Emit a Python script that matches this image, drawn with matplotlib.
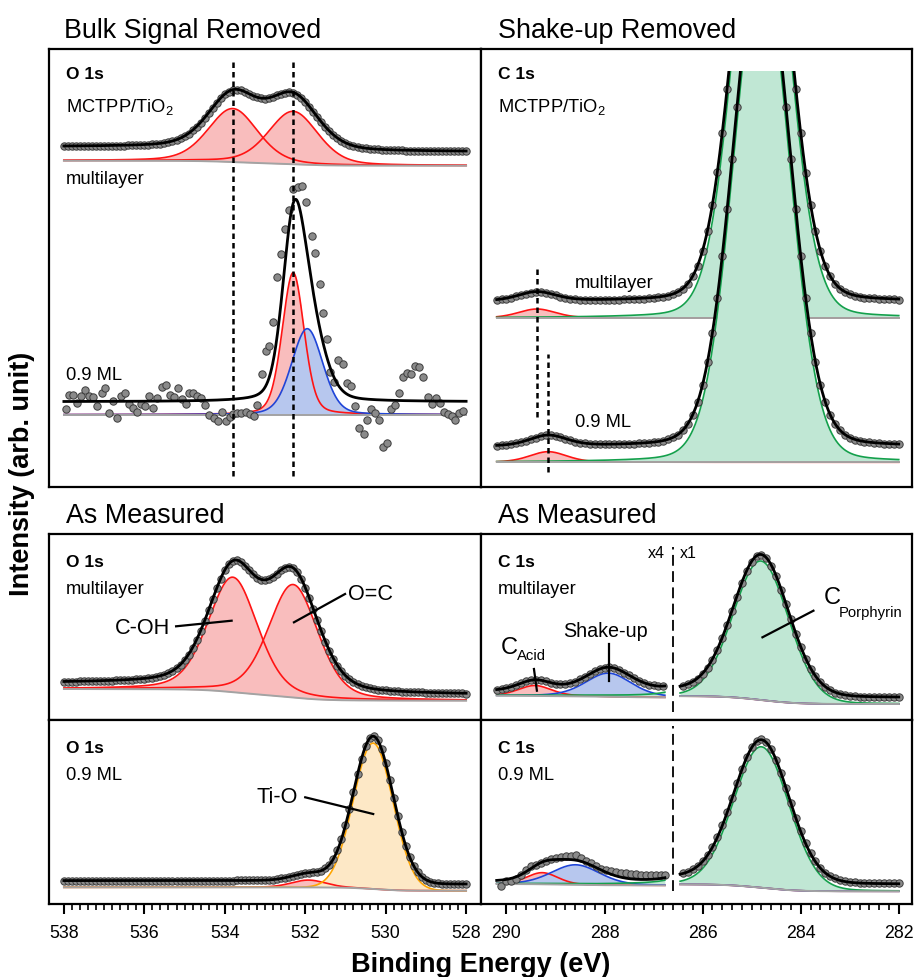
import numpy as np
import matplotlib
matplotlib.use('Agg')
import matplotlib.pyplot as plt
from matplotlib.patches import Rectangle
from matplotlib.ticker import MultipleLocator, FixedLocator

plt.rcParams['font.family'] = ['Liberation Sans', 'DejaVu Sans']
plt.rcParams['mathtext.fontset'] = 'custom'
plt.rcParams['mathtext.rm'] = 'Liberation Sans'

## colours
RED, RED_F = '#ff1414', '#f9bdbd'
BLUE, BLUE_F = '#1f45d8', '#b7c7ee'
GREEN, GREEN_F = '#14a04c', '#c0e7d4'
ORANGE, ORANGE_F = '#ffa500', '#fde8c6'
GREY = '#a3a3a3'
DOT, DOT_E = '#8a8a8a', '#3c3c3c'

## fitted peaks: (centre [eV], height, FWHM [eV], lorentz fraction), Shirley step
o1s_sub_ml_peaks = [(533.80, 53.5, 1.45, 0.3), (532.30, 53.0, 1.45, 0.3)]
o1s_sub_ml_step = 5.0
o1s_sub_09_peaks = [(532.30, 142.0, 0.64, 0.25), (531.95, 86.0, 0.91, 0.2)]
o1s_sub_09_step = 0.0
c1s_sub_ml_peaks = [(289.38, 9.0, 0.90, 0.3), (284.80, 475.0, 1.30, 0.10)]
c1s_sub_09_peaks = [(289.15, 10.6, 0.90, 0.3), (284.80, 500.0, 1.35, 0.10)]
o1s_ml_peaks = [(533.80, 115.0, 1.45, 0.3), (532.30, 113.0, 1.45, 0.3)]
o1s_ml_step = 11.7
c1s_ml_peaks = [(289.42, 2.6, 0.80, 0.3), (287.92, 5.9, 1.10, 0.3), (284.81, 139.0, 1.33, 0.07)]
c1s_ml_step = 8.3
o1s_09_peaks = [(531.92, 7.3, 1.00, 0.2), (530.31, 146.0, 1.16, 0.0)]
o1s_09_step = 3.4
c1s_09_peaks = [(289.27, 2.9, 0.75, 0.2), (288.59, 5.0, 1.16, 0.2), (284.80, 141.0, 1.33, 0.07)]
c1s_09_step = 7.3

## measured points (0.1 eV steps)
o1s_E = np.round(np.arange(538.0, 527.95, -0.1), 1)
c1s_E = np.round(np.arange(290.2, 281.95, -0.1), 1)
o1s_sub_ml_I = [6, 6, 6, 6, 6, 6, 6, 6, 6, 6, 6, 6, 6, 6, 6, 6, 7, 7, 7, 7,
                7, 7, 8, 8, 8, 9, 10, 11, 12, 14, 16, 18, 22, 25, 29, 34, 39, 44, 49, 54,
                58, 60, 62, 62, 62, 60, 58, 56, 55, 54, 53, 54, 55, 57, 58, 59, 60, 59, 57, 54,
                50, 45, 40, 35, 30, 25, 21, 17, 14, 11, 9, 7, 6, 5, 4, 4, 3, 3, 3, 2,
                2, 2, 2, 2, 2, 1, 1, 1, 1, 1, 1, 1, 1, 1, 1, 1, 1, 1, 1, 1, 1]
o1s_ml_I = [13, 13, 13, 13, 14, 14, 14, 14, 14, 14, 14, 14, 14, 15, 15, 15, 15, 15, 16, 16,
            16, 17, 17, 18, 19, 20, 22, 24, 27, 30, 35, 40, 47, 55, 64, 74, 85, 96, 107, 116,
            125, 131, 134, 135, 133, 129, 125, 121, 117, 115, 115, 116, 118, 121, 125, 127, 128, 127, 123, 116,
            107, 97, 86, 75, 64, 53, 44, 36, 29, 24, 19, 16, 13, 11, 9, 8, 7, 6, 5, 5,
            5, 4, 4, 4, 3, 3, 3, 3, 3, 3, 2, 2, 2, 2, 2, 2, 2, 2, 2, 2, 1]
o1s_09_I = [3, 3, 3, 3, 3, 3, 3, 3, 3, 3, 3, 3, 3, 3, 3, 3, 3, 3, 3, 3,
            3, 3, 3, 3, 3, 3, 3, 3, 3, 3, 3, 3, 3, 3, 3, 3, 3, 3, 3, 3,
            3, 3, 3, 4, 4, 4, 4, 4, 4, 4, 4, 4, 4, 5, 6, 6, 7, 8, 9, 10,
            11, 11, 12, 12, 13, 16, 19, 25, 34, 45, 59, 75, 92, 110, 125, 138, 146, 148, 144, 135,
            121, 104, 86, 68, 52, 38, 27, 18, 12, 7, 4, 2, 1, 1, 0, 0, 0, 0, 0, 0, 0]
c1s_sub_ml_I = [2, 3, 3, 4, 6, 7, 8, 9, 10, 10, 9, 8, 7, 5, 4, 3, 3, 2, 2, 2,
                2, 2, 2, 2, 2, 2, 3, 3, 3, 3, 3, 4, 4, 5, 5, 6, 8, 10, 13, 18,
                26, 36, 51, 71, 97, 130, 169, 213, 263, 314, 363, 408, 444, 467, 475, 467, 444, 408, 363, 314,
                262, 213, 169, 129, 97, 71, 51, 36, 26, 18, 13, 10, 8, 6, 5, 4, 4, 4, 3, 3,
                3, 3, 2]
c1s_sub_09_I = [1, 2, 2, 3, 4, 5, 6, 8, 9, 11, 12, 12, 11, 10, 8, 7, 5, 4, 4, 3,
                3, 3, 3, 3, 3, 3, 3, 3, 3, 4, 4, 4, 5, 5, 6, 8, 10, 12, 17, 23,
                32, 45, 62, 85, 114, 149, 191, 238, 288, 340, 390, 434, 469, 492, 500, 492, 469, 434, 390, 340,
                288, 238, 191, 149, 114, 85, 62, 45, 32, 23, 17, 12, 9, 7, 6, 5, 5, 4, 4, 3,
                3, 3, 3]
c1s_ml_left_I = [8.8, 9.0, 9.2, 9.6, 10.0, 10.4, 10.9, 11.2, 11.3, 11.2, 10.9, 10.6, 10.3, 10.2,
                 10.2, 10.4, 10.8, 11.4, 12.0, 12.7, 13.4, 14.0, 14.3, 14.4, 14.2, 13.7, 13.1, 12.4,
                 11.7, 11.1, 10.6, 10.1, 9.9, 9.7, 9.7]
c1s_ml_right_I = [12, 14, 16, 19, 24, 30, 38, 48, 60, 73, 87, 101, 115, 127, 136, 142, 143, 140, 132, 122,
                  108, 94, 79, 64, 51, 39, 29, 22, 16, 11, 8, 5, 4, 3, 2, 2, 1, 1, 1, 1,
                  1, 1, 1, 1, 1]
c1s_09_right_I = [11, 12, 15, 18, 23, 29, 37, 47, 59, 72, 86, 101, 115, 127, 137, 143, 145, 142, 135, 124,
                  111, 96, 81, 66, 53, 41, 31, 23, 16, 11, 8, 6, 4, 3, 2, 2, 1, 1, 1, 1,
                  1, 1, 1, 1, 1]
o1s_sub_09_E = [537.95, 537.87, 537.78, 537.67, 537.58, 537.48, 537.37, 537.27, 537.17, 537.06,
                536.97, 536.87, 536.77, 536.69, 536.57, 536.47, 536.37, 536.28, 536.18, 536.09,
                535.98, 535.88, 535.78, 535.69, 535.55, 535.46, 535.36, 535.27, 535.17, 535.07,
                534.97, 534.88, 534.78, 534.68, 534.59, 534.48, 534.38, 534.27, 534.18, 534.08,
                533.97, 533.88, 533.79, 533.69, 533.59, 533.47, 533.37, 533.27, 533.19, 533.08,
                532.98, 532.89, 532.79, 532.69, 532.59, 532.50, 532.40, 532.30, 532.19, 532.09,
                531.98, 531.84, 531.76, 531.63, 531.57, 531.47, 531.38, 531.28, 531.18, 531.07,
                530.97, 530.87, 530.76, 530.66, 530.55, 530.47, 530.37, 530.26, 530.17, 530.07,
                529.97, 529.87, 529.76, 529.67, 529.58, 529.48, 529.37, 529.27, 529.16, 529.06,
                528.96, 528.86, 528.76, 528.66, 528.56, 528.46, 528.36, 528.27, 528.17, 528.07]
o1s_sub_09_I = [-7.3, 7.0, 7.0, -1.6, 6.0, 12.0, 5.4, 5.0, -4.0, 8.7,
                13.4, -11.3, 1.0, -16.3, 5.7, 9.0, -2.3, -6.0, -10.0, -2.6,
                -4.6, 5.4, -6.3, 3.4, 14.4, 16.4, 6.7, 4.7, 13.4, 3.0,
                -2.3, 9.0, 9.0, 5.7, 4.0, -3.3, -13.0, -16.3, -19.0, -10.6,
                -19.6, -15.6, -12.3, -11.6, -11.6, -10.0, -12.3, -14.0, -3.3, 27.7,
                51.0, 55.4, 80.0, 124.4, 147.7, 172.7, 192.0, 212.7, 214.4, 216.0,
                199.4, 165.4, 148.7, 117.7, 88.4, 62.7, 29.4, 20.0, 41.7, 38.0,
                18.7, 15.4, -4.0, -26.6, -32.0, -18.3, -7.3, -11.3, -18.3, -45.3,
                -41.6, -7.0, -3.0, 8.4, 25.0, 29.0, 28.0, 35.7, 34.4, 25.0,
                5.0, -2.0, 3.4, -1.3, -10.0, -12.6, -14.7, -18.3, -11.3, -9.6]
c1s_09_left_E = [290.12, 290.01, 289.91, 289.81, 289.71, 289.61, 289.50, 289.40, 289.30, 289.20,
                 289.10, 288.99, 288.89, 288.79, 288.69, 288.59, 288.48, 288.38, 288.28, 288.18,
                 288.08, 287.97, 287.87, 287.77, 287.67, 287.57, 287.46, 287.36, 287.26, 287.16,
                 287.06, 286.96, 286.85, 286.77]
c1s_09_left_I = [6.38, 7.45, 7.63, 8.05, 9.13, 10.38, 11.20, 11.63, 12.05, 12.45,
                 13.05, 13.30, 13.55, 13.70, 13.70, 14.13, 13.30, 12.45, 12.05, 11.20,
                 10.55, 10.38, 9.95, 9.70, 9.55, 9.55, 9.30, 9.30, 9.13, 9.13,
                 9.13, 9.13, 9.05, 9.13]


def grid(hi, lo):
    n = int(round((hi - lo) / 0.01)) + 1
    return np.round(hi - 0.01 * np.arange(n), 2)


def pv(E, c, h, w, eta):
    x = (E - c) / w
    return h * (eta / (1 + 4 * x ** 2) + (1 - eta) * np.exp(-4 * np.log(2) * x ** 2))


def model(E, peaks, step):
    comps = np.array([pv(E, *p) for p in peaks])
    tot = comps.sum(axis=0)
    area = np.cumsum(tot[::-1])[::-1]
    return comps, step * area / area[0]


def draw(ax, E, comps, bg, cols, y0, off, z=0, gain=1.0, ref=0.0):
    sc = lambda y: y0 + ref + gain * (y - ref)
    arts = []
    for c, (lc, fc) in zip(comps, cols):
        arts.append(ax.fill_between(E, sc(bg), sc(bg + c), color=fc, lw=0, zorder=1 + z))
    for c, (lc, fc) in zip(comps, cols):
        arts += ax.plot(E, sc(bg + c), color=lc, lw=1.2, zorder=2 + z)
    arts += ax.plot(E, sc(bg), color=GREY, lw=1.4, zorder=2 + z)
    arts += ax.plot(E, sc(bg + comps.sum(0)) + off, color='k', lw=2.0, zorder=4 + z)
    return arts


def dots(ax, E, I, y0, off, z=0, gain=1.0, ref=0.0):
    I = np.asarray(I, dtype=float)
    return ax.plot(E, y0 + ref + gain * (I - ref) + off, 'o', ms=5.3, mfc=DOT, mec=DOT_E,
                   mew=0.7, zorder=3 + z)


W, H = 915.0, 978.0
fig = plt.figure(figsize=(W / 100, H / 100), dpi=100)


def add_panel(x0, y0, x1, y1, xlim):
    ax = fig.add_axes([x0 / W, 1 - y1 / H, (x1 - x0) / W, (y1 - y0) / H])
    ax.set_xlim(*xlim)
    ax.set_ylim(0, y1 - y0)
    ax.set_yticks([])
    for s in ax.spines.values():
        s.set_linewidth(1.6)
    ax.tick_params(axis='x', which='both', bottom=False, labelbottom=False)
    return ax


O_LIM = (538.37, 527.63)
C_LIM = (290.52, 281.73)
axA = add_panel(49, 50, 481, 488, O_LIM)
axB = add_panel(481, 50, 912, 488, C_LIM)
axC = add_panel(49, 535, 481, 721, O_LIM)
axD = add_panel(481, 535, 912, 721, C_LIM)
axE = add_panel(49, 721, 481, 905, O_LIM)
axF = add_panel(481, 721, 912, 905, C_LIM)

## --- top left: bulk signal removed
E = grid(538.0, 528.0)
comps, bg = model(E, o1s_sub_ml_peaks, o1s_sub_ml_step)
draw(axA, E, comps, bg, [(RED, RED_F)] * 2, 321.3, 14)
dots(axA, o1s_E, o1s_sub_ml_I, 321.3, 14)
comps, bg = model(E, o1s_sub_09_peaks, o1s_sub_09_step)
draw(axA, E, comps, bg, [(RED, RED_F), (BLUE, BLUE_F)], 72.3, 13, z=10)
dots(axA, o1s_sub_09_E, o1s_sub_09_I, 72.3, 13, z=10)
for p in o1s_sub_ml_peaks:
    axA.plot([p[0], p[0]], [11, 428], color='k', lw=1.8, ls=(0, (2.2, 1.6)), zorder=30)

## --- top right: shake-up removed (peak tops cut off)
E = grid(290.2, 282.0)
clip = Rectangle((0, 0), 1, 416 / 438, transform=axB.transAxes)
for peaks, pts, y0, off, z in [(c1s_sub_ml_peaks, c1s_sub_ml_I, 169, 16.5, 0),
                               (c1s_sub_09_peaks, c1s_sub_09_I, 24.7, 15.5, 10)]:
    comps, bg = model(E, peaks, 0.0)
    arts = draw(axB, E, comps, bg, [(RED, RED_F), (GREEN, GREEN_F)], y0, off, z=z)
    arts += dots(axB, c1s_E, pts, y0, off, z=z)
    for a in arts:
        a.set_clip_path(clip)
axB.plot([c1s_sub_ml_peaks[0][0]] * 2, [69.7, 218.7], color='k', lw=1.8, ls=(0, (2.2, 1.6)), zorder=30)
axB.plot([c1s_sub_09_peaks[0][0]] * 2, [15, 133], color='k', lw=1.8, ls=(0, (2.2, 1.6)), zorder=30)

## --- O 1s as measured
E = grid(538.0, 528.0)
comps, bg = model(E, o1s_ml_peaks, o1s_ml_step)
draw(axC, E, comps, bg, [(RED, RED_F)] * 2, 19.3, 6)
dots(axC, o1s_E, o1s_ml_I, 19.3, 6)
comps, bg = model(E, o1s_09_peaks, o1s_09_step)
draw(axE, E, comps, bg, [(RED, RED_F), (ORANGE, ORANGE_F)], 13.3, 6.7)
dots(axE, o1s_E, o1s_09_I, 13.3, 6.7)

## --- C 1s as measured (x4 / x1)
E = grid(290.2, 282.0)
L = E >= 286.77
R = E <= 286.46
EL = c1s_E[c1s_E >= 286.77]
ER = c1s_E[c1s_E <= 286.46]
cc = [(RED, RED_F), (BLUE, BLUE_F), (GREEN, GREEN_F)]
for ax, peaks, step, y0, offR, offL, ptsLE, ptsL, ptsR in [
        (axD, c1s_ml_peaks, c1s_ml_step, 16, 6.5, 4, EL, c1s_ml_left_I, c1s_ml_right_I),
        (axF, c1s_09_peaks, c1s_09_step, 12.7, 7, 2, c1s_09_left_E, c1s_09_left_I, c1s_09_right_I)]:
    comps, bg = model(E, peaks, step)
    draw(ax, E[L], comps[:, L], bg[L], cc, y0, offL, gain=4, ref=step)
    draw(ax, E[R], comps[:, R], bg[R], cc, y0, offR)
    dots(ax, ptsLE, ptsL, y0, offL, gain=4, ref=step)
    dots(ax, ER, ptsR, y0, offR)
axD.plot([286.61] * 2, [8, 173], color='k', lw=1.3, ls=(0, (6, 3)), zorder=30)
axF.plot([286.61] * 2, [13, 178], color='k', lw=1.3, ls=(0, (6, 3)), zorder=30)

## --- ticks on bottom row
for ax, lo, hi in [(axE, 528, 538), (axF, 282, 290)]:
    ax.tick_params(axis='x', which='both', bottom=True, labelbottom=True, direction='out')
    ax.xaxis.set_major_locator(MultipleLocator(2))
    ax.xaxis.set_minor_locator(FixedLocator(np.arange(lo, hi + 0.01, 0.2)))
    ax.tick_params(axis='x', which='major', length=7.5, width=1.5, labelsize=12.8, pad=7)
    ax.tick_params(axis='x', which='minor', length=4.5, width=1.2)

## --- text
kw = dict(fontsize=13.2, va='baseline', zorder=40)
bkw = dict(fontsize=12.5, fontweight='bold', va='baseline', zorder=40)
axA.text(0.0394, 0.934, 'O 1s', transform=axA.transAxes, **bkw)
axA.text(0.0394, 0.859, 'MCTPP/TiO$_2$', transform=axA.transAxes, **kw)
axA.text(0.0394, 0.693, 'multilayer', transform=axA.transAxes, **kw)
axA.text(0.0394, 0.2466, '0.9 ML', transform=axA.transAxes, **kw)
axB.text(0.0401, 0.934, 'C 1s', transform=axB.transAxes, **bkw)
axB.text(0.0401, 0.859, 'MCTPP/TiO$_2$', transform=axB.transAxes, **kw)
axB.text(0.218, 0.456, 'multilayer', transform=axB.transAxes, **kw)
axB.text(0.218, 0.1386, '0.9 ML', transform=axB.transAxes, **kw)
axC.text(0.0394, 0.826, 'O 1s', transform=axC.transAxes, **bkw)
axC.text(0.0394, 0.681, 'multilayer', transform=axC.transAxes, **kw)
axD.text(0.0401, 0.83, 'C 1s', transform=axD.transAxes, **bkw)
axD.text(0.0401, 0.681, 'multilayer', transform=axD.transAxes, **kw)
axE.text(0.0394, 0.828, 'O 1s', transform=axE.transAxes, **bkw)
axE.text(0.0394, 0.679, '0.9 ML', transform=axE.transAxes, **kw)
axF.text(0.0401, 0.828, 'C 1s', transform=axF.transAxes, **bkw)
axF.text(0.0401, 0.679, '0.9 ML', transform=axF.transAxes, **kw)

lkw = dict(color='k', lw=1.6, zorder=40)
axC.text(535.36, 92.7, 'C-OH', fontsize=15.6, ha='right', va='center')
axC.plot([535.21, 533.83], [93.7, 99.3], **lkw)
axC.text(530.93, 126, 'O=C', fontsize=15.6, ha='left', va='center')
axC.plot([531.01, 532.28], [126, 97.7], **lkw)
axE.text(532.18, 107.7, 'Ti-O', fontsize=15.6, ha='right', va='center')
axE.plot([532.0, 530.31], [106.7, 90], **lkw)
axD.text(287.99, 89.3, 'Shake-up', fontsize=14.2, ha='center', va='center')
axD.plot([287.91, 287.91], [76, 39.3], **lkw)
axD.text(290.12, 72.5, 'C', fontsize=17, ha='left', va='center')
axD.text(289.79, 65, 'Acid', fontsize=10.7, ha='left', va='center')
axD.plot([289.44, 289.38], [51, 29.3], **lkw)
axD.text(283.54, 122.5, 'C', fontsize=17, ha='left', va='center')
axD.text(283.22, 108.5, 'Porphyrin', fontsize=10.7, ha='left', va='center')
axD.plot([283.74, 284.78], [109.3, 82.7], **lkw)
axD.text(286.77, 167.7, 'x4', fontsize=11.5, ha='right', va='center')
axD.text(286.46, 167.7, 'x1', fontsize=11.5, ha='left', va='center')

fig.text(64 / W, 1 - 38.3 / H, 'Bulk Signal Removed', fontsize=19.4, va='baseline')
fig.text(498.3 / W, 1 - 38.3 / H, 'Shake-up Removed', fontsize=19.4, va='baseline')
fig.text(66 / W, 1 - 523.3 / H, 'As Measured', fontsize=19.4, va='baseline')
fig.text(498.3 / W, 1 - 523.3 / H, 'As Measured', fontsize=19.4, va='baseline')
fig.text(22 / W, 1 - 474 / H, 'Intensity (arb. unit)', rotation=90, fontsize=19.5,
         fontweight='bold', ha='center', va='center')
fig.text(480.5 / W, 1 - 971.7 / H, 'Binding Energy (eV)', fontsize=19.5, fontweight='bold',
         ha='center', va='baseline')

fig.savefig('out.png', dpi=100)
